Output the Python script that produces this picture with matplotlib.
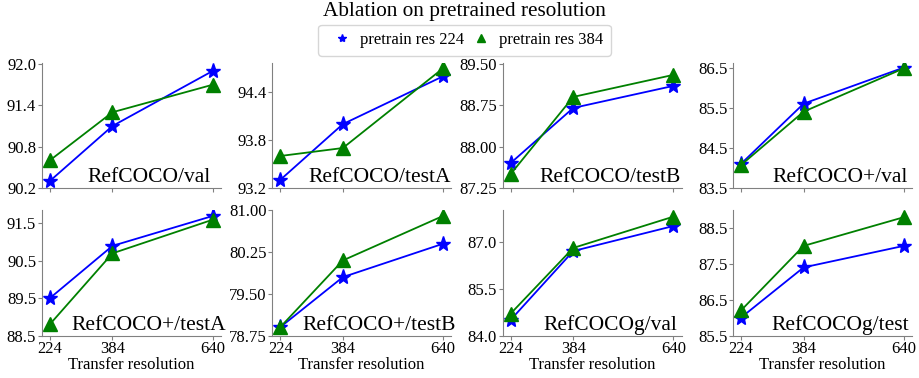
import numpy as np
import matplotlib
matplotlib.use("Agg")
import matplotlib.pyplot as plt
from matplotlib.lines import Line2D

plt.rcParams['font.family'] = ['Liberation Serif', 'DejaVu Serif']

# transfer resolutions on the x axis
resolutions = [224, 384, 640]

# panel names, row by row
panels = ['RefCOCO/val', 'RefCOCO/testA', 'RefCOCO/testB', 'RefCOCO+/val',
          'RefCOCO+/testA', 'RefCOCO+/testB', 'RefCOCOg/val', 'RefCOCOg/test']

# accuracy with pretrain res 224
res224 = [
    [90.3, 91.1, 91.9],
    [93.3, 94.0, 94.6],
    [87.7, 88.7, 89.1],
    [84.1, 85.6, 86.5],
    [89.5, 90.9, 91.7],
    [78.9, 79.8, 80.4],
    [84.5, 86.7, 87.5],
    [86.0, 87.4, 88.0],
]

# accuracy with pretrain res 384
res384 = [
    [90.6, 91.3, 91.7],
    [93.6, 93.7, 94.7],
    [87.5, 88.9, 89.3],
    [84.07, 85.4, 86.48],
    [88.8, 90.7, 91.6],
    [78.9, 80.1, 80.9],
    [84.7, 86.8, 87.8],
    [86.2, 88.0, 88.8],
]

# y tick values and limits per panel
yticks = [
    [90.2, 90.8, 91.4, 92.0],
    [93.2, 93.8, 94.4],
    [87.25, 88.00, 88.75, 89.50],
    [83.5, 84.5, 85.5, 86.5],
    [88.5, 89.5, 90.5, 91.5],
    [78.75, 79.50, 80.25, 81.00],
    [84.0, 85.5, 87.0],
    [85.5, 86.5, 87.5, 88.5],
]
ylims = [(90.2, 92.02), (93.2, 94.77), (87.25, 89.52), (83.5, 86.62),
         (88.5, 91.85), (78.75, 81.0), (84.0, 88.0), (85.5, 88.99)]
ytick_fmt = ['%.1f', '%.1f', '%.2f', '%.1f', '%.1f', '%.2f', '%.1f', '%.1f']

fig = plt.figure(figsize=(9.19, 3.78), dpi=100)

left0 = 0.0454
width = 0.1948
step = 0.2507
height = 0.331
bottoms = [0.503, 0.1124]

for k, name in enumerate(panels):
    row, col = divmod(k, 4)
    ax = fig.add_axes([left0 + col * step, bottoms[row], width, height])
    ax.plot(resolutions, res224[k], color='blue', marker='*', markersize=11, linewidth=1.3)
    ax.plot(resolutions, res384[k], color='green', marker='^', markersize=10, linewidth=1.3)

    ax.set_xticks(resolutions)
    ax.set_yticks(yticks[k])
    ax.set_yticklabels([ytick_fmt[k] % v for v in yticks[k]])
    ax.set_ylim(*ylims[k])
    ax.tick_params(labelsize=12, length=3, pad=1, color='gray')

    for side in ['top', 'right']:
        ax.spines[side].set_visible(False)
    for side in ['left', 'bottom']:
        ax.spines[side].set_color('gray')

    if row == 0:
        ax.set_xticklabels([])
    else:
        ax.set_xlabel('Transfer resolution', fontsize=12, labelpad=0)

    ax.text(0.6, 0.045, name, transform=ax.transAxes, ha='center', va='baseline', fontsize=15.5)

fig.suptitle('Ablation on pretrained resolution', fontsize=15.3, x=0.5054, y=0.995)

handles = [
    Line2D([], [], color='blue', marker='*', linestyle='none', markersize=6),
    Line2D([], [], color='green', marker='^', linestyle='none', markersize=6),
]
fig.legend(handles, ['pretrain res 224', 'pretrain res 384'], loc='upper center',
           bbox_to_anchor=(0.5054, 0.9566), ncol=2, fontsize=12, handlelength=2,
           handletextpad=0.05, columnspacing=0.05, borderpad=0.45)

plt.savefig('out.png', dpi=100)
